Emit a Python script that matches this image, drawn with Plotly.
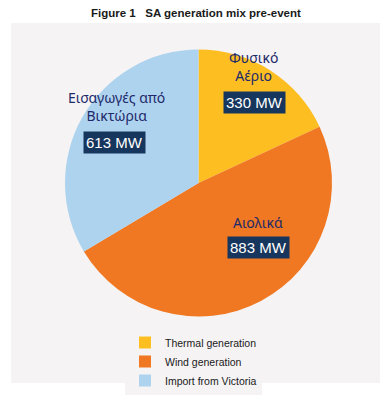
import plotly.graph_objects as go

W, H = 391, 400

sources = ["Thermal generation", "Wind generation", "Import from Victoria"]
values_mw = [330, 883, 613]
greek_names = ["Φυσικό<br>Αέριο", "Αιολικά", "Εισαγωγές από<br>Βικτώρια"]
colors = ["#FDBE22", "#F07822", "#AED3EF"]

fig = go.Figure()
fig.add_trace(go.Pie(
    labels=sources,
    values=values_mw,
    sort=False,
    direction="clockwise",
    rotation=0,
    marker=dict(colors=colors, line=dict(width=0)),
    textinfo="none",
    hoverinfo="skip",
    domain=dict(x=[65 / W, 332 / W], y=[1 - 317 / H, 1 - 49 / H]),
))

def px(x):
    return x / W

def py(y):
    return 1 - y / H

# name label positions and value box positions (pixels)
name_pos = [(253, 66), (258, 222), (116, 106)]
box_pos = [(254, 102), (258, 247), (114, 142)]

annotations = []
for name, val, (nx, ny), (bx, by) in zip(greek_names, values_mw, name_pos, box_pos):
    annotations.append(dict(
        x=px(nx), y=py(ny), xref="paper", yref="paper", showarrow=False,
        text=name, font=dict(family="Noto Sans", size=14, color="#1E2A6A"),
        xanchor="center", yanchor="middle", align="center",
    ))
    annotations.append(dict(
        x=px(bx), y=py(by), xref="paper", yref="paper", showarrow=False,
        text=f"{val} MW", font=dict(family="Liberation Sans", size=15, color="white"),
        bgcolor="#17365D", borderpad=2, xanchor="center", yanchor="middle",
    ))

annotations.append(dict(
    x=0.5, y=py(13), xref="paper", yref="paper", showarrow=False,
    text="<b>Figure 1   SA generation mix pre-event</b>",
    font=dict(family="Liberation Sans", size=11.5, color="#1a1a1a"),
    xanchor="center", yanchor="middle",
))

fig.update_layout(
    width=W, height=H,
    margin=dict(l=0, r=0, t=0, b=0),
    paper_bgcolor="white",
    shapes=[dict(type="rect", xref="paper", yref="paper",
                 x0=px(11), x1=px(380), y0=py(383), y1=py(23),
                 fillcolor="#F5F3F4", line=dict(width=0), layer="below")],
    annotations=annotations,
    showlegend=True,
    legend=dict(x=px(125), y=py(328), xanchor="left", yanchor="top",
                bgcolor="#F5F3F4", font=dict(family="Liberation Sans", size=10.5, color="#1a1a1a"),
                itemwidth=30, tracegroupgap=0),
)

fig.write_html("out.html", config={"displayModeBar": False},
               post_script="document.body.style.margin='0';")
